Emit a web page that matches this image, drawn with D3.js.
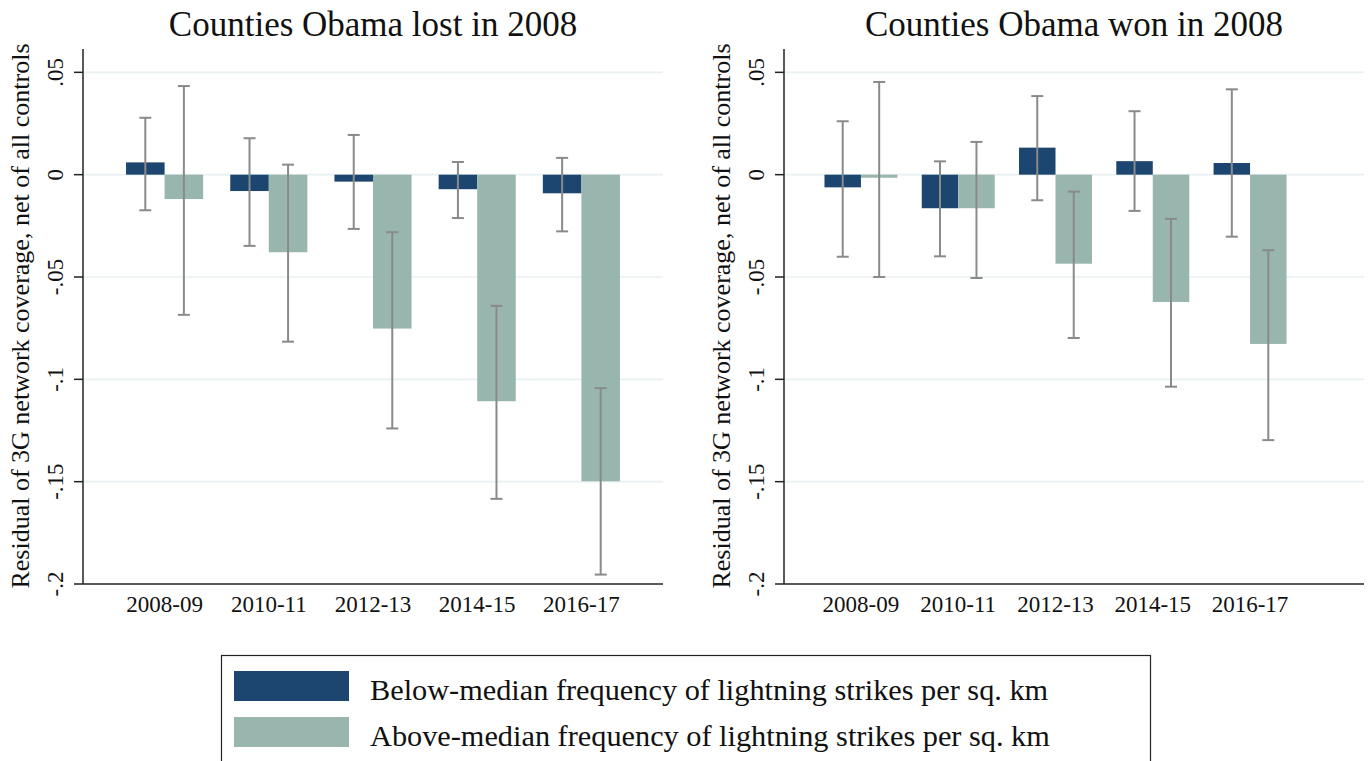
<!DOCTYPE html>
<html>
<head>
<meta charset="utf-8">
<script src="https://cdn.jsdelivr.net/npm/d3@7"></script>
<style>
  html, body { margin: 0; padding: 0; background: #fff; }
  svg { display: block; font-family: "Liberation Serif", "DejaVu Serif", serif; }
</style>
</head>
<body>
<svg id="chart" width="1369" height="761"></svg>
<script>
// Periods on the x axis
const periods = ["2008-09", "2010-11", "2012-13", "2014-15", "2016-17"];

// Y axis ticks and their printed labels
const yTicks = [0.05, 0, -0.05, -0.1, -0.15, -0.2];
const yTickLabels = [".05", "0", "-.05", "-.1", "-.15", "-.2"];

// Series names
const seriesNames = [
  "Below-median frequency of lightning strikes per sq. km",
  "Above-median frequency of lightning strikes per sq. km"
];

// Counties Obama lost in 2008: point estimates and 95% interval bounds
const lostBelow   = [0.0060, -0.0080, -0.0034, -0.0071, -0.0091];
const lostBelowLo = [-0.0174, -0.0348, -0.0265, -0.0212, -0.0277];
const lostBelowHi = [0.0278, 0.0178, 0.0194, 0.0062, 0.0082];
const lostAbove   = [-0.0119, -0.0379, -0.0752, -0.1107, -0.1498];
const lostAboveLo = [-0.0685, -0.0816, -0.1240, -0.1584, -0.1954];
const lostAboveHi = [0.0433, 0.0049, -0.0281, -0.0641, -0.1043];

// Counties Obama won in 2008
const wonBelow   = [-0.0062, -0.0164, 0.0132, 0.0066, 0.0057];
const wonBelowLo = [-0.0401, -0.0399, -0.0125, -0.0177, -0.0303];
const wonBelowHi = [0.0261, 0.0065, 0.0384, 0.0310, 0.0417];
const wonAbove   = [-0.0015, -0.0164, -0.0435, -0.0622, -0.0827];
const wonAboveLo = [-0.0500, -0.0505, -0.0798, -0.1036, -0.1297];
const wonAboveHi = [0.0453, 0.0160, -0.0083, -0.0216, -0.0369];

const colors = ["#1c4670", "#98b6ae"];
const gridColor = "#e8f0f2";
const ciColor = "#8a8a8a";

const svg = d3.select("#chart");

const panels = [
  {
    title: "Counties Obama lost in 2008",
    x0: 83, x1: 663, bandEnd: 663, padInner: 0.26, padOuter: 0.413,
    series: [
      { est: lostBelow, lo: lostBelowLo, hi: lostBelowHi },
      { est: lostAbove, lo: lostAboveLo, hi: lostAboveHi }
    ]
  },
  {
    title: "Counties Obama won in 2008",
    x0: 784, x1: 1364, bandEnd: 1327, padInner: 0.25, padOuter: 0.416,
    series: [
      { est: wonBelow, lo: wonBelowLo, hi: wonBelowHi },
      { est: wonAbove, lo: wonAboveLo, hi: wonAboveHi }
    ]
  }
];

const yTop = 49, yBottom = 584;
const y = d3.scaleLinear().domain([-0.2, 0.0614]).range([yBottom, yTop]);

panels.forEach(p => {
  const g = svg.append("g");

  // Horizontal grid lines
  g.selectAll("line.grid")
    .data(yTicks.filter(t => t > -0.2))
    .join("line")
    .attr("class", "grid")
    .attr("x1", p.x0).attr("x2", p.x1)
    .attr("y1", d => y(d)).attr("y2", d => y(d))
    .attr("stroke", gridColor).attr("stroke-width", 1.6);

  const x = d3.scaleBand().domain(periods)
    .range([p.x0, p.bandEnd])
    .paddingInner(p.padInner).paddingOuter(p.padOuter);
  const xs = d3.scaleBand().domain([0, 1]).range([0, x.bandwidth()]);

  p.series.forEach((s, si) => {
    const rows = periods.map((per, i) => ({ per, v: s.est[i], lo: s.lo[i], hi: s.hi[i] }));
    // Bars
    g.selectAll(null).data(rows).join("rect")
      .attr("x", d => x(d.per) + xs(si))
      .attr("width", xs.bandwidth())
      .attr("y", d => y(Math.max(0, d.v)))
      .attr("height", d => Math.abs(y(d.v) - y(0)))
      .attr("fill", colors[si]);
  });

  p.series.forEach((s, si) => {
    const rows = periods.map((per, i) => ({ per, lo: s.lo[i], hi: s.hi[i] }));
    const cx = d => x(d.per) + xs(si) + xs.bandwidth() / 2;
    const cap = 6;
    const eg = g.selectAll(null).data(rows).join("g")
      .attr("stroke", ciColor).attr("stroke-width", 2);
    eg.append("line")
      .attr("x1", cx).attr("x2", cx)
      .attr("y1", d => y(d.hi)).attr("y2", d => y(d.lo));
    eg.append("line")
      .attr("x1", d => cx(d) - cap).attr("x2", d => cx(d) + cap)
      .attr("y1", d => y(d.hi)).attr("y2", d => y(d.hi));
    eg.append("line")
      .attr("x1", d => cx(d) - cap).attr("x2", d => cx(d) + cap)
      .attr("y1", d => y(d.lo)).attr("y2", d => y(d.lo));
  });

  // Y axis line and ticks
  g.append("line")
    .attr("x1", p.x0).attr("x2", p.x0)
    .attr("y1", yTop).attr("y2", yBottom)
    .attr("stroke", "#222").attr("stroke-width", 1.5);
  g.selectAll("line.ytick").data(yTicks).join("line")
    .attr("class", "ytick")
    .attr("x1", p.x0 - 9).attr("x2", p.x0)
    .attr("y1", d => y(d)).attr("y2", d => y(d))
    .attr("stroke", "#222").attr("stroke-width", 1.5);
  g.selectAll("text.ylab").data(yTicks).join("text")
    .attr("class", "ylab")
    .attr("transform", d => `translate(${p.x0 - 20},${y(d)}) rotate(-90)`)
    .attr("text-anchor", "middle")
    .attr("font-size", 23)
    .attr("fill", "#111")
    .text((d, i) => yTickLabels[i]);

  // X axis line and labels
  g.append("line")
    .attr("x1", p.x0).attr("x2", p.x1)
    .attr("y1", yBottom).attr("y2", yBottom)
    .attr("stroke", "#222").attr("stroke-width", 1.5);
  g.selectAll("text.xlab").data(periods).join("text")
    .attr("class", "xlab")
    .attr("x", d => x(d) + x.bandwidth() / 2)
    .attr("y", 612)
    .attr("text-anchor", "middle")
    .attr("font-size", 23)
    .attr("fill", "#111")
    .text(d => d);

  // Axis title
  g.append("text")
    .attr("transform", `translate(${p.x0 - 54},316) rotate(-90)`)
    .attr("text-anchor", "middle")
    .attr("font-size", 26)
    .attr("fill", "#111")
    .text("Residual of 3G network coverage, net of all controls");

  // Panel title
  g.append("text")
    .attr("x", (p.x0 + p.x1) / 2)
    .attr("y", 36)
    .attr("text-anchor", "middle")
    .attr("font-size", 35)
    .attr("fill", "#111")
    .text(p.title);
});

// Legend
const lg = svg.append("g");
lg.append("rect")
  .attr("x", 221.5).attr("y", 655.5)
  .attr("width", 929).attr("height", 130)
  .attr("fill", "none").attr("stroke", "#222").attr("stroke-width", 1.2);
seriesNames.forEach((name, i) => {
  const top = 671 + i * 46;
  lg.append("rect")
    .attr("x", 234).attr("y", top)
    .attr("width", 115).attr("height", 30)
    .attr("fill", colors[i]);
  lg.append("text")
    .attr("x", 370).attr("y", top + 29)
    .attr("font-size", 30.3)
    .attr("fill", "#111")
    .text(name);
});
</script>
</body>
</html>
